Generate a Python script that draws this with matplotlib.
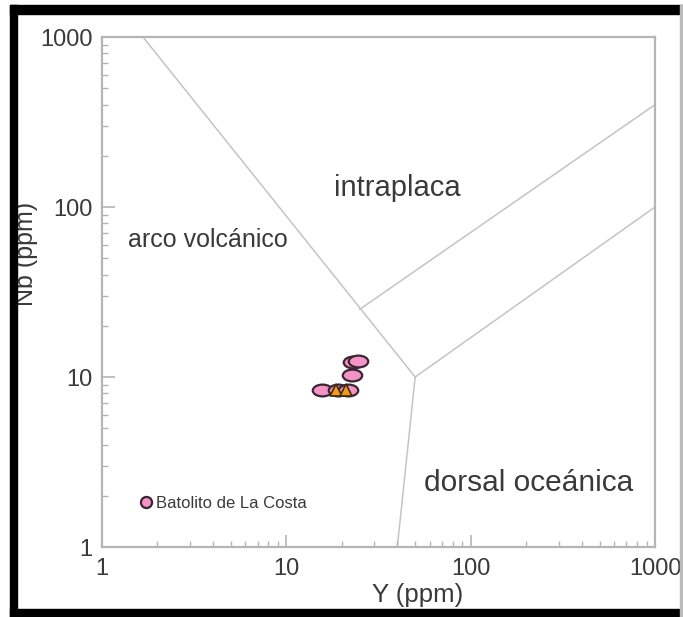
import matplotlib
matplotlib.use('Agg')
import matplotlib.pyplot as plt
from matplotlib.markers import MarkerStyle
from matplotlib.transforms import Affine2D
from matplotlib.lines import Line2D
from matplotlib.ticker import LogLocator, NullFormatter, FixedLocator, FixedFormatter

plt.rcParams['font.family'] = ['Liberation Sans', 'DejaVu Sans']

# muestras Batolito de La Costa (Y, Nb en ppm)
y_elipse = [15.6, 19.0, 21.5, 22.7, 23.0, 24.5]
nb_elipse = [8.4, 8.4, 8.4, 10.3, 12.3, 12.4]
y_triang = [18.5, 21.0]
nb_triang = [8.4, 8.4]

# limites de campos (Pearce et al. 1984)
lim1_y = [1, 50]
lim1_nb = [2000, 10]
lim2_y = [50, 40]
lim2_nb = [10, 1]
lim3_y = [50, 1000]
lim3_nb = [10, 100]
lim4_y = [25, 1000]
lim4_nb = [25, 400]

ticks = [1, 10, 100, 1000]
tick_lbl = ['1', '10', '100', '1000']

gris = '#c4c4c4'
txt = '#3a3a3a'

fig = plt.figure(figsize=(6.83, 6.17), dpi=100)
ax = fig.add_axes([102/683, 1-547/617, 553/683, 510/617])

for xs, ys in [(lim1_y, lim1_nb), (lim2_y, lim2_nb), (lim3_y, lim3_nb), (lim4_y, lim4_nb)]:
    ax.plot(xs, ys, color=gris, lw=1.1, zorder=1)

elipse = MarkerStyle('o', transform=Affine2D().scale(1.65, 1.0))
ax.plot(y_elipse, nb_elipse, linestyle='none', marker=elipse, ms=8.5,
        mfc='#f294c6', mec='#3d2433', mew=1.6, zorder=3)
ax.plot(y_triang, nb_triang, linestyle='none', marker='^', ms=9,
        mfc='#ee9a1e', mec='#3d2a10', mew=1.2, zorder=4)

ax.set_xscale('log')
ax.set_yscale('log')
ax.set_xlim(1, 1000)
ax.set_ylim(1, 1000)

ax.xaxis.set_major_locator(FixedLocator(ticks))
ax.xaxis.set_major_formatter(FixedFormatter(tick_lbl))
ax.yaxis.set_major_locator(FixedLocator(ticks))
ax.yaxis.set_major_formatter(FixedFormatter(tick_lbl))
for a in (ax.xaxis, ax.yaxis):
    a.set_minor_locator(LogLocator(base=10, subs=range(2, 10)))
    a.set_minor_formatter(NullFormatter())

ax.tick_params(which='major', direction='in', length=9, width=1.2, color='#b5b5b5',
               labelsize=17, labelcolor=txt, pad=7)
ax.tick_params(which='minor', direction='in', length=4.5, width=1.0, color='#b5b5b5')
ax.tick_params(axis='x', which='major', pad=8)
for s in ax.spines.values():
    s.set_color('#b5b5b5')
    s.set_linewidth(1.6)

ax.set_xlabel('Y (ppm)', fontsize=18.5, color=txt)
ax.xaxis.set_label_coords(0.57, -0.07)
ax.set_ylabel('Nb (ppm)', fontsize=18, color=txt)
ax.yaxis.set_label_coords(-0.115, 0.575)

ax.text(40, 129, 'intraplaca', fontsize=21, color=txt, ha='center', va='center')
ax.text(3.76, 64, 'arco volcánico', fontsize=18, color=txt, ha='center', va='center')
ax.text(207, 2.38, 'dorsal oceánica', fontsize=21.5, color=txt, ha='center', va='center')

h = Line2D([], [], linestyle='none', marker='o', ms=8, mfc='#f294c6', mec='#3d2433', mew=1.6)
ax.legend([h], ['Batolito de La Costa'], loc='lower left', bbox_to_anchor=(0.058, 0.058),
          frameon=False, fontsize=12, handlelength=0.6, handletextpad=0.3,
          labelcolor=txt, borderaxespad=0)

# marco negro de la captura
fig.patches.append(plt.Rectangle((10/683, 0), 673/683, 8/617, transform=fig.transFigure,
                                 color='black', zorder=10))
fig.patches.append(plt.Rectangle((10/683, 1-14/617), 673/683, 9/617, transform=fig.transFigure,
                                 color='black', zorder=10))
fig.patches.append(plt.Rectangle((10/683, 0), 7/683, 1-5/617, transform=fig.transFigure,
                                 color='black', zorder=10))
fig.patches.append(plt.Rectangle((680/683, 0), 2/683, 1-5/617, transform=fig.transFigure,
                                 color='#bbbbbb', zorder=10))

fig.savefig('out.png', dpi=100)
